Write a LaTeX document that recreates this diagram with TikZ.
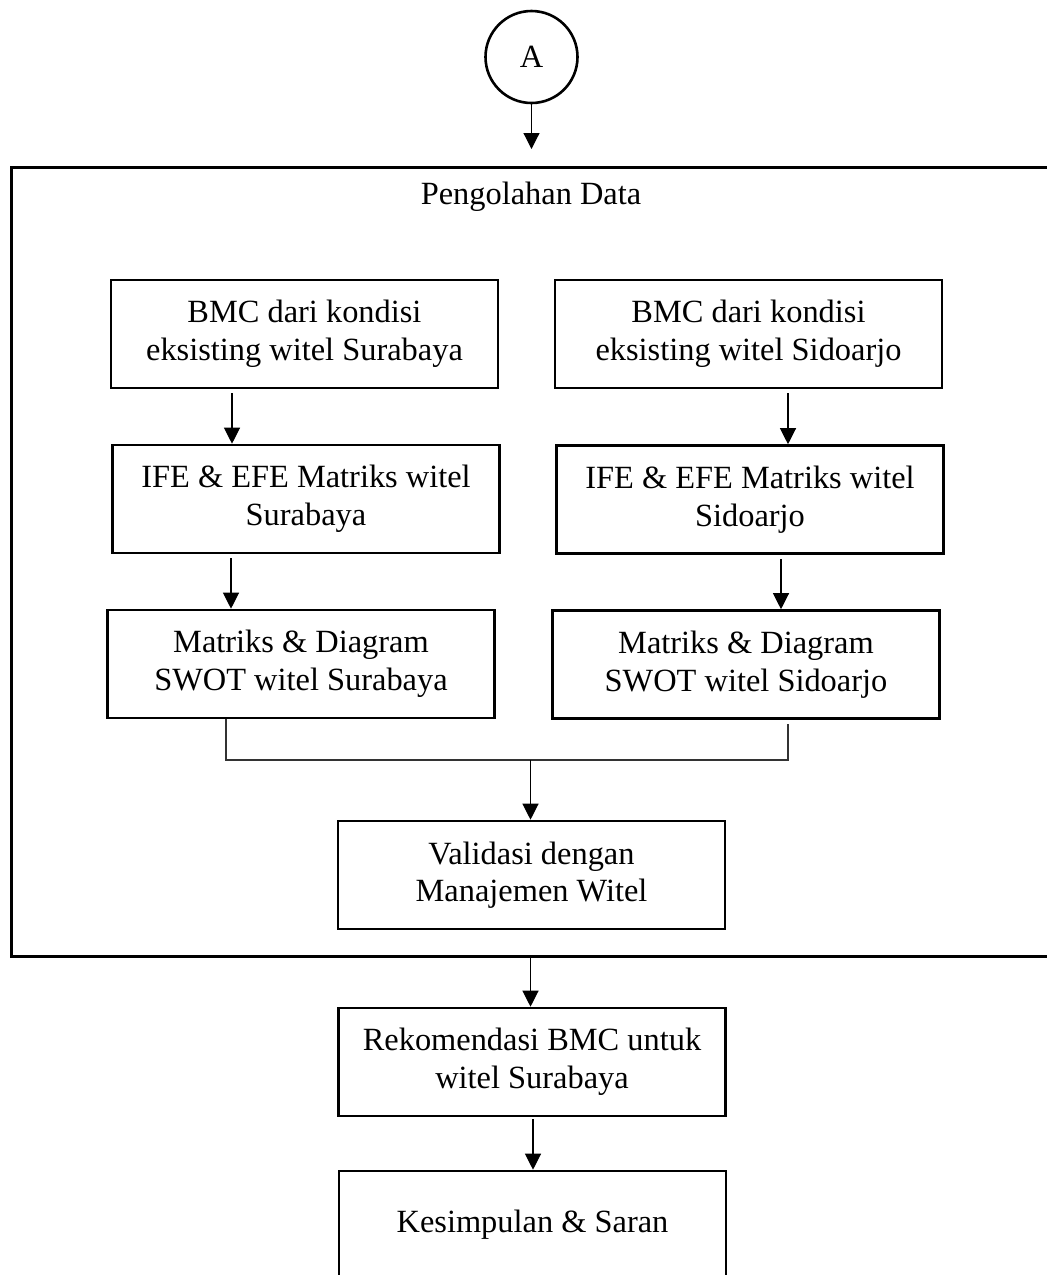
\documentclass[tikz,border=0pt]{standalone}
\usepackage{fontspec}
\setmainfont{Liberation Serif}
\usetikzlibrary{arrows.meta}
\begin{document}
\begin{tikzpicture}[x=0.5pt,y=-0.5pt,
  txt/.style={font=\fontsize{16.2pt}{18.8pt}\selectfont, align=center},
  box/.style={txt, draw, line width=1.3pt, minimum width=193.5pt, minimum height=54pt, inner sep=0pt},
  arr/.style={line width=0.6pt, -{Triangle[width=8pt,length=8pt]}},
  mergeline/.style={line width=0.55pt, draw=black!80}]
\useasboundingbox (0,0) rectangle (1047,1275);
\clip (0,0) rectangle (1047,1275);

% start connector
\node[txt, draw, circle, line width=1.3pt, minimum size=46pt, inner sep=0pt] (A) at (531.5,57) {A};
\coordinate (Aend) at (531.5,149);

% processing frame
\node[draw, line width=1.5pt, minimum width=527pt, minimum height=394.5pt, inner sep=0pt] (frame) at (538,561.5) {};
\node[txt] (title) at (531,197) {Pengolahan Data};

% left column
\node[box] (L1) at (304.5,334) {BMC dari kondisi\\eksisting witel Surabaya};
\node[box] (L2) at (306,499) {IFE \& EFE Matriks witel\\Surabaya};
\node[box] (L3) at (301,664) {Matriks \& Diagram\\SWOT witel Surabaya};
% right column
\node[box] (R1) at (748.5,334) {BMC dari kondisi\\eksisting witel Sidoarjo};
\node[box] (R2) at (750,499.5) {IFE \& EFE Matriks witel\\Sidoarjo};
\node[box] (R3) at (746,664.5) {Matriks \& Diagram\\SWOT witel Sidoarjo};

\node[box] (V) at (531.5,875) {Validasi dengan\\Manajemen Witel};
\node[box] (K1) at (532,1062) {Rekomendasi BMC untuk\\witel Surabaya};
\node[box] (K2) at (532.5,1225) {Kesimpulan \& Saran};

% column positions of the connectors
\coordinate (c1) at (232,0);
\coordinate (c2) at (231,0);
\coordinate (c3) at (788,0);
\coordinate (c4) at (781,0);
\coordinate (c5) at (533,0);
\coordinate (cm) at (530.5,0);
\coordinate (ml) at (226,760);
\coordinate (mr) at (788,760);
\coordinate (mm) at (530.5,760);

\draw[arr] (A) -- (Aend);
\draw[arr] ([yshift=-2pt]L1.south -| c1) -- (L2.north -| c1);
\draw[arr] ([yshift=-2pt]L2.south -| c2) -- (L3.north -| c2);
\draw[arr] ([yshift=-2pt]R1.south -| c3) -- (R2.north -| c3);
\draw[arr] ([yshift=-2pt]R2.south -| c4) -- (R3.north -| c4);

\draw[mergeline] (L3.south -| ml) -- (ml) -- (mr) -- ([yshift=-2pt]R3.south -| mr);
\draw[arr] (mm) -- (V.north -| mm);

\draw[arr] (frame.south -| cm) -- (K1.north -| cm);
\draw[arr] ([yshift=-1pt]K1.south -| c5) -- (K2.north -| c5);
\end{tikzpicture}
\end{document}
